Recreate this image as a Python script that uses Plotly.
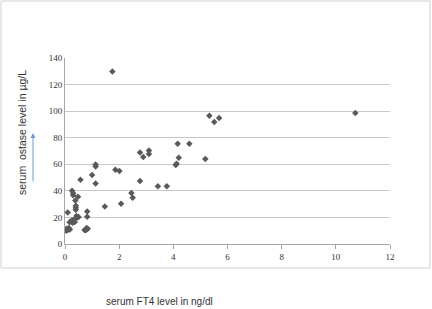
import plotly.graph_objects as go

ft4 = [0.06, 0.10, 0.14, 0.18, 0.04, 0.10,
       0.17, 0.24, 0.30, 0.36, 0.28,
       0.26, 0.30, 0.30, 0.38, 0.48,
       0.40, 0.40, 0.40,
       0.42, 0.50, 0.44,
       0.57,
       0.72, 0.78, 0.84, 0.80, 0.76,
       0.82, 0.82,
       1.00, 1.13, 1.13, 1.13,
       1.47, 1.75, 1.86, 2.01, 2.07,
       2.45, 2.50, 2.77, 2.77, 2.89, 3.10, 3.10,
       3.43, 3.76, 4.09, 4.12, 4.16, 4.20, 4.59, 5.18,
       5.33, 5.51, 5.69, 10.72]
ostase = [11.5, 10.5, 12.0, 11.0, 10.0, 23.8,
          16.3, 17.5, 18.0, 16.5, 16.0,
          40.1, 38.2, 36.6, 32.8, 35.6,
          28.8, 27.3, 25.8,
          21.1, 20.3, 19.8,
          48.4,
          10.5, 10.5, 11.5, 12.0, 10.8,
          24.5, 20.5,
          51.9, 59.9, 58.4, 45.6,
          28.3, 129.9, 55.9, 54.9, 30.3,
          38.4, 34.8, 47.4, 68.9, 65.4, 70.4, 67.7,
          43.4, 43.4, 59.4, 60.4, 75.5, 64.9, 75.5, 63.9,
          96.5, 91.8, 94.8, 98.6]

x_title = "serum FT4 level in ng/dl"
y_title = "serum  ostase level in µg/L"

W, H = 432, 309
L, R, T, B = 65, 42, 58, 65
pw, ph = W - L - R, H - T - B

def px_x(p):
    return (p - L) / pw

def px_y(p):
    return (H - B - p) / ph

fig = go.Figure()
fig.add_trace(go.Scatter(
    x=ft4, y=ostase, mode="markers",
    marker=dict(symbol="diamond", size=5, color="#595959"),
    showlegend=False, hoverinfo="skip"))

tickfont = dict(family="Liberation Serif", size=9, color="#333333")
fig.update_layout(
    width=W, height=H,
    margin=dict(l=L, r=R, t=T, b=B),
    paper_bgcolor="white", plot_bgcolor="white",
    xaxis=dict(range=[0, 12], dtick=2, showgrid=False, zeroline=False,
               showline=True, linecolor="#a6a6a6", linewidth=1,
               ticks="outside", ticklen=4, tickcolor="#a6a6a6",
               tickfont=tickfont, fixedrange=True),
    yaxis=dict(range=[0, 140], dtick=20, showgrid=True, gridcolor="#c8c8c8",
               gridwidth=1, zeroline=False, showline=True, linecolor="#a6a6a6",
               linewidth=1, ticks="", tickfont=tickfont, fixedrange=True),
)

# chart frame
fig.add_shape(type="rect", xref="paper", yref="paper",
              x0=px_x(1), x1=px_x(430), y0=px_y(268), y1=px_y(1),
              line=dict(color="#d0d0d0", width=1), fillcolor="rgba(0,0,0,0)")

# axis titles
fig.add_annotation(text=x_title, xref="paper", yref="paper",
                   x=px_x(159), y=px_y(301), showarrow=False,
                   xanchor="center", yanchor="middle",
                   font=dict(family="Liberation Sans", size=10, color="#333333"))
fig.add_annotation(text=y_title, xref="paper", yref="paper",
                   x=px_x(22), y=px_y(132), showarrow=False, textangle=-90,
                   xanchor="center", yanchor="middle",
                   font=dict(family="Liberation Sans", size=10.5, color="#333333"))

# blue arrow
fig.add_annotation(xref="paper", yref="paper", axref="pixel", ayref="pixel",
                   x=px_x(33), y=px_y(133), ax=0, ay=50,
                   text="", showarrow=True, arrowhead=2, arrowsize=1,
                   arrowwidth=1, arrowcolor="#6f9bd1")

fig.write_html("out.html")
